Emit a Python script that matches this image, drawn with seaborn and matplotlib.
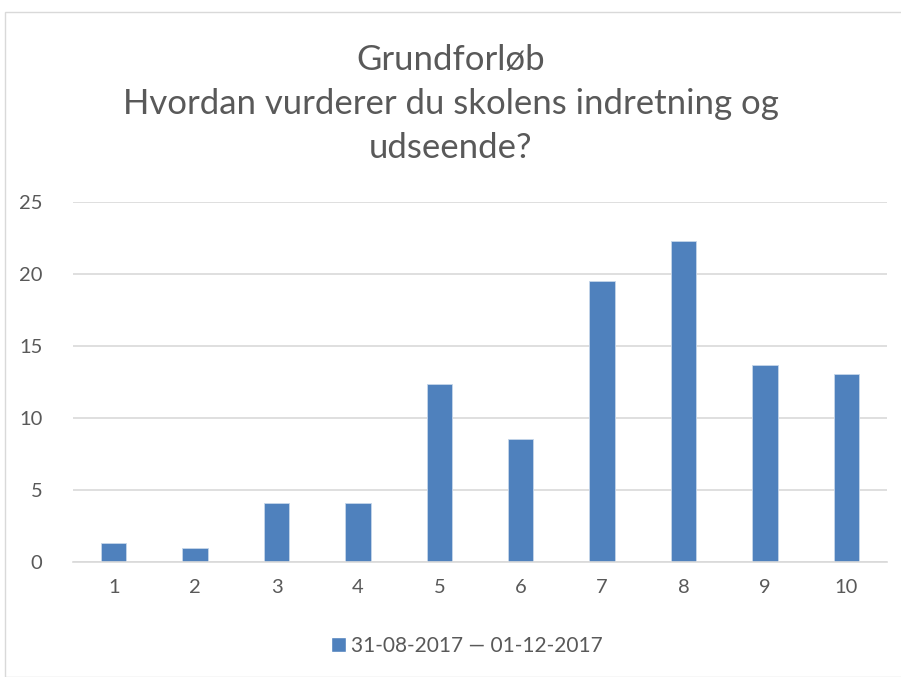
import matplotlib
matplotlib.use("Agg")
import matplotlib.pyplot as plt
import seaborn as sns
import pandas as pd
from matplotlib.patches import Rectangle

categories = ["1", "2", "3", "4", "5", "6", "7", "8", "9", "10"]
values = [1.35, 1.0, 4.09, 4.09, 12.34, 8.55, 19.54, 22.28, 13.69, 13.04]
series_name = "31-08-2017 \u2014 01-12-2017"
title = "Grundforløb\nHvordan vurderer du skolens indretning og\nudseende?"
yticks = [0, 5, 10, 15, 20, 25]

sns.set_theme(style="white")
plt.rcParams['font.family'] = ['Lato', 'DejaVu Sans']

df = pd.DataFrame({"cat": categories, "val": values, "series": series_name})

fig = plt.figure(figsize=(9.01, 6.77), dpi=100)
ax = fig.add_axes([73/901, 1-562/677, (887-73)/901, (562-202)/677])

bar_color = "#4F81BD"
sns.barplot(data=df, x="cat", y="val", hue="series", palette=[bar_color],
            width=0.31, ax=ax, legend=False, saturation=1,
            edgecolor="#c6d6ea", linewidth=0.6)

ax.set_ylim(0, 25)
ax.set_xlim(-0.5, len(categories) - 0.5)
ax.set_yticks(yticks)
ax.yaxis.grid(True, color="#d9d9d9", linewidth=1.2)
ax.set_axisbelow(True)
for s in ["top", "right", "left"]:
    ax.spines[s].set_visible(False)
ax.spines["bottom"].set_color("#d9d9d9")
ax.spines["bottom"].set_linewidth(1.2)
ax.set_xlabel("")
ax.set_ylabel("")
ax.tick_params(axis="both", length=0, labelsize=14.5, colors="#595959", pad=12)
ax.tick_params(axis="y", pad=22)

fig.text(0.5, 1 - 104/677, title, ha="center", va="center", fontsize=25,
         color="#595959", linespacing=1.45)

# legend
handle = Rectangle((0, 0), 1, 1, facecolor=bar_color)
fig.legend([handle], [series_name], loc="center", bbox_to_anchor=(467/901, 1 - 646/677),
           frameon=False, fontsize=15, labelcolor="#595959", handlelength=0.7,
           handleheight=0.7, handletextpad=0.25)

# outer border
fig.patches.append(Rectangle((5/901, 0), 1, 1 - 12/677, transform=fig.transFigure,
                             fill=False, edgecolor="#d9d9d9", linewidth=1))

fig.savefig("out.png", dpi=100, facecolor="white")
